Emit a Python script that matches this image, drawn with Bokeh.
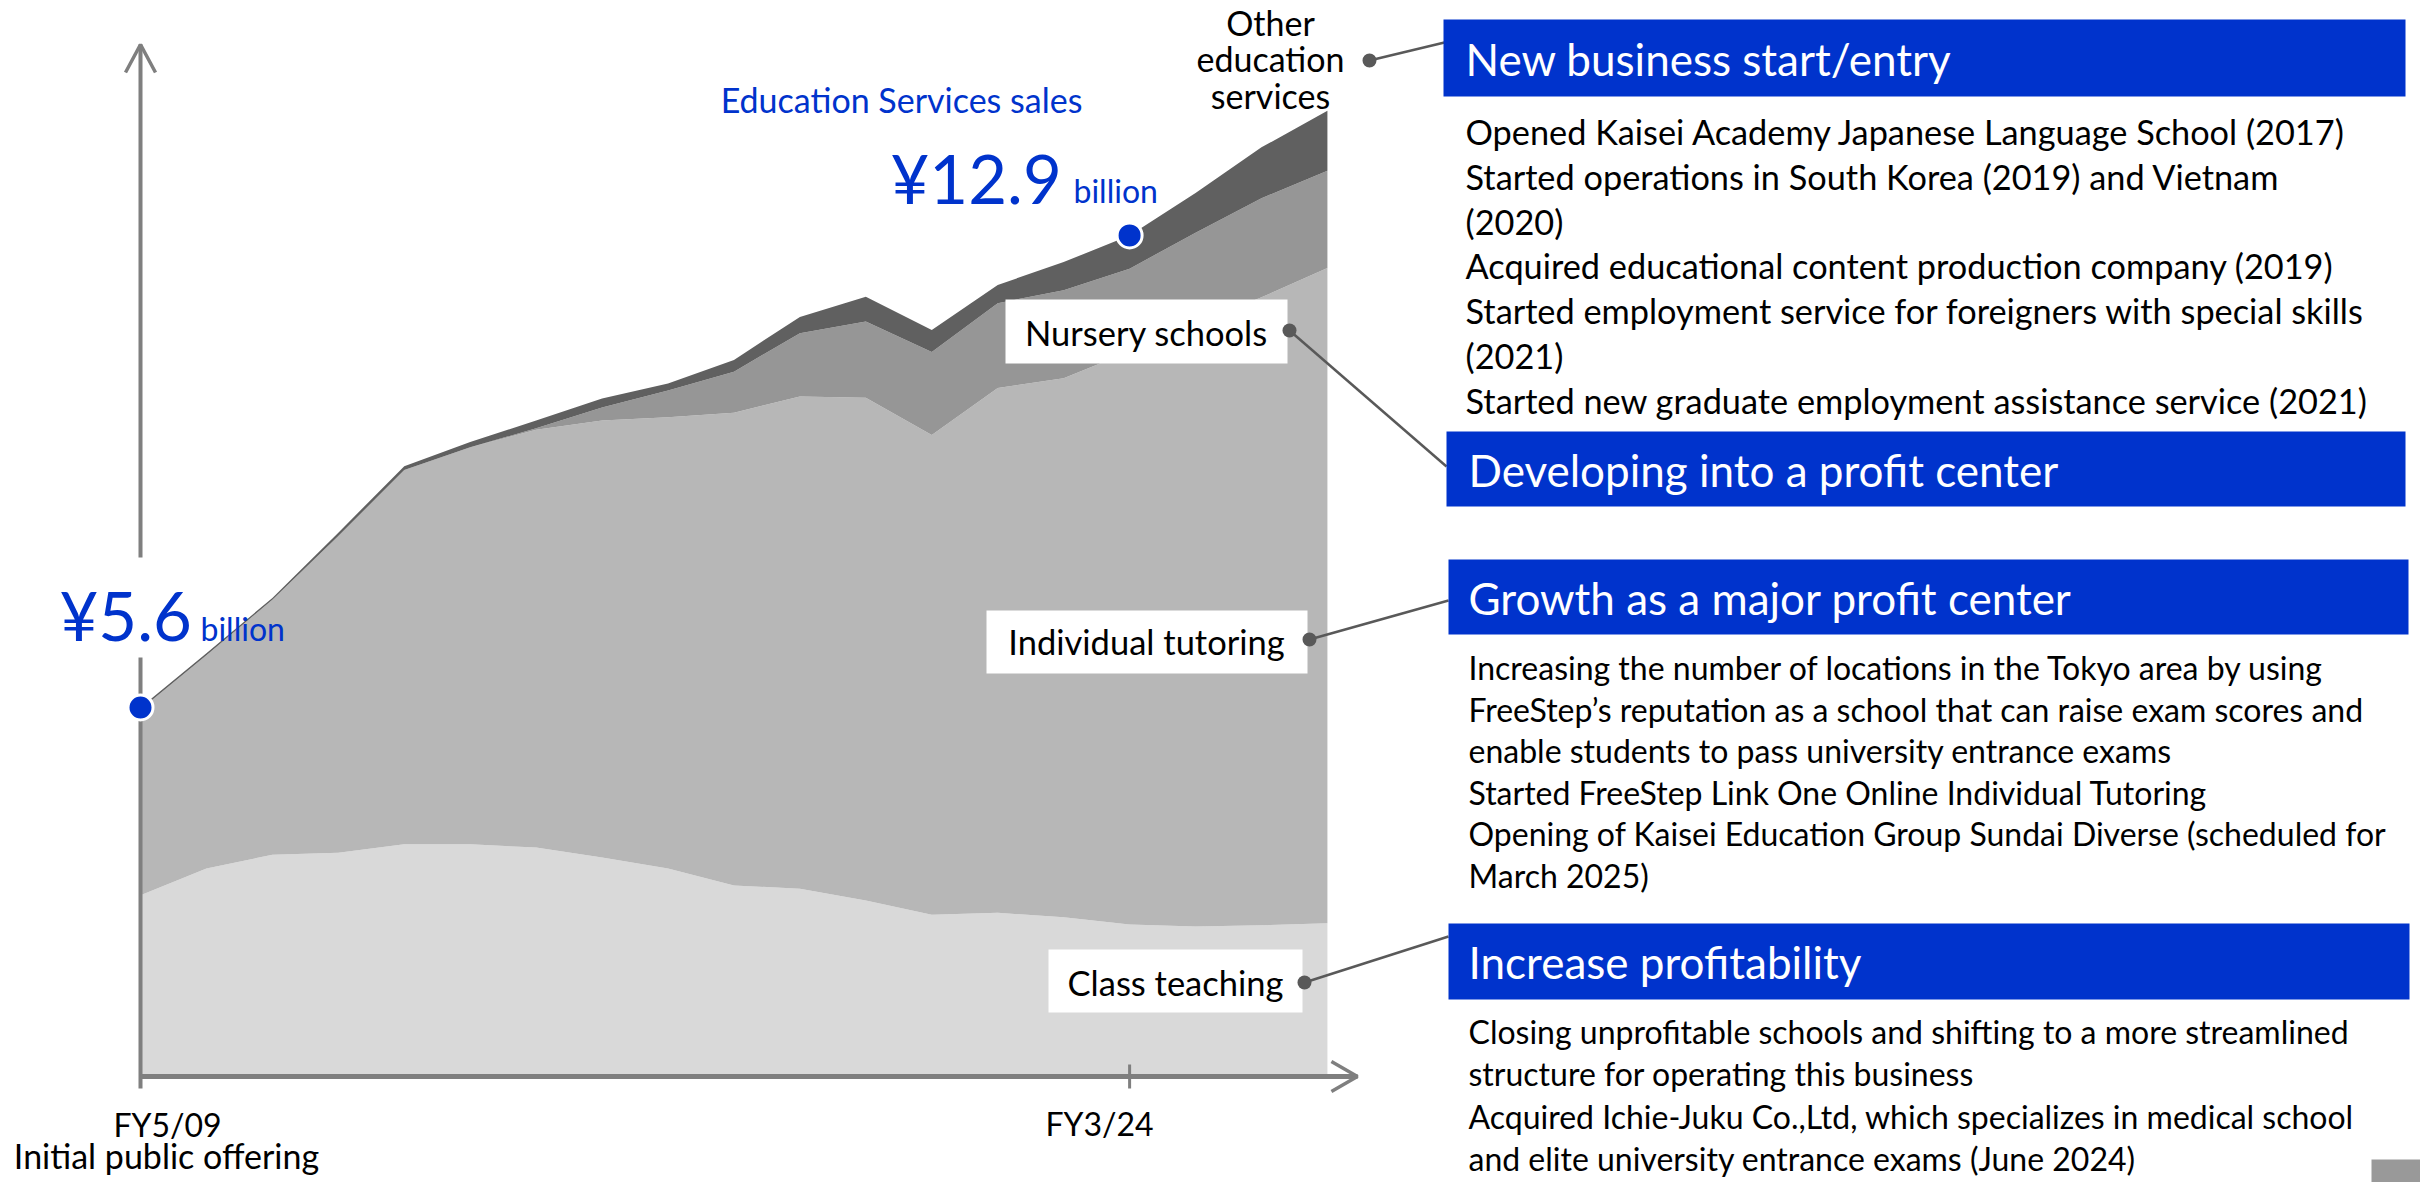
from bokeh.plotting import figure
from bokeh.models import Range1d, ColumnDataSource
from bokeh.embed import file_html
from bokeh.resources import INLINE
from bokeh.core.properties import value

# ---------------- data (billion yen) ----------------
years = [2009, 2010, 2011, 2012, 2013, 2014, 2015, 2016, 2017, 2018,
         2019, 2020, 2021, 2022, 2023, 2024, 2025, 2026, 2027]
class_teaching = [2.75, 3.16, 3.37, 3.40, 3.53, 3.53, 3.48, 3.33, 3.16, 2.90,
                  2.85, 2.67, 2.45, 2.48, 2.41, 2.30, 2.27, 2.29, 2.32]
individual_tutoring = [2.85, 3.27, 3.91, 4.86, 5.74, 6.09, 6.41, 6.70, 6.92, 7.25,
                       7.55, 7.71, 7.36, 8.05, 8.27, 8.79, 9.23, 9.63, 10.05]
nursery_schools = [0.00, 0.00, 0.00, 0.00, 0.00, 0.00, 0.02, 0.20, 0.41, 0.63,
                   0.97, 1.17, 1.27, 1.30, 1.35, 1.27, 1.41, 1.52, 1.49]
other_education = [0.03, 0.03, 0.03, 0.05, 0.06, 0.08, 0.12, 0.14, 0.11, 0.18,
                   0.25, 0.38, 0.34, 0.28, 0.43, 0.51, 0.61, 0.78, 0.92]
series_names = ["Class teaching", "Individual tutoring", "Nursery schools", "Other education services"]
series_colors = ["#d9d9d9", "#b7b7b7", "#969696", "#606060"]
tick_years = [2009, 2024]
tick_labels = ["FY5/09", "FY3/24"]
ipo_label = "Initial public offering"
chart_title = "Education Services sales"

headers = ["New business start/entry", "Developing into a profit center",
           "Growth as a major profit center", "Increase profitability"]
new_business_items = [
    "Opened Kaisei Academy Japanese Language School (2017)",
    "Started operations in South Korea (2019) and Vietnam",
    "(2020)",
    "Acquired educational content production company (2019)",
    "Started employment service for foreigners with special skills",
    "(2021)",
    "Started new graduate employment assistance service (2021)",
]
growth_items = [
    "Increasing the number of locations in the Tokyo area by using",
    "FreeStep\u2019s reputation as a school that can raise exam scores and",
    "enable students to pass university entrance exams",
    "Started FreeStep Link One Online Individual Tutoring",
    "Opening of Kaisei Education Group Sundai Diverse (scheduled for",
    "March 2025)",
]
profitability_items = [
    "Closing unprofitable schools and shifting to a more streamlined",
    "structure for operating this business",
    "Acquired Ichie-Juku Co.,Ltd, which specializes in medical school",
    "and elite university entrance exams (June 2024)",
]

# ---------------- layout (page pixels) ----------------
W, H = 2420, 1182
X0, DX = 140.0, 65.94      # page px of first year, px per year
Y0, DY = 1074.0, 65.2      # page px of zero, px per billion
FONT = value("Lato")
BLUE = "#0033cc"
GREY = "#7f7f7f"
LEADER = "#595959"


def px_x(yr):
    return X0 + (yr - years[0]) * DX


def px_y(v):
    return Y0 - v * DY


x_range = Range1d(years[0] + (0 - X0) / DX, years[0] + (W - X0) / DX)
y_range = Range1d((Y0 - H) / DY, Y0 / DY)

p = figure(width=W, height=H, x_range=x_range, y_range=y_range,
           x_axis_type=None, y_axis_type=None, output_backend="svg",
           toolbar_location=None, min_border=0, outline_line_color=None)
p.title.visible = False
p.background_fill_color = "white"
p.border_fill_color = "white"
p.extra_x_ranges = {"px": Range1d(0, W)}
p.extra_y_ranges = {"px": Range1d(H, 0)}
PX = dict(x_range_name="px", y_range_name="px")

totals = [a + b + c + d for a, b, c, d in zip(class_teaching, individual_tutoring,
                                              nursery_schools, other_education)]

src = ColumnDataSource(dict(year=years, c0=class_teaching, c1=individual_tutoring,
                            c2=nursery_schools, c3=other_education))
p.varea_stack(stackers=["c0", "c1", "c2", "c3"], x="year", color=series_colors, source=src)

# ---------------- axes (drawn) ----------------
ax = px_x(years[0])
ay = px_y(0) + 2
xend = px_x(years[-1]) + 30
p.line(x=[ax, ax], y=[ay + 12, 44], line_color=GREY, line_width=4, **PX)
p.line(x=[ax - 15, ax, ax + 15], y=[72, 44, 72], line_color=GREY, line_width=3.5, **PX)
p.line(x=[ax, xend], y=[ay, ay], line_color=GREY, line_width=5, **PX)
p.line(x=[xend - 26, xend, xend - 26], y=[ay - 15, ay, ay + 15], line_color=GREY, line_width=3.5, **PX)
tx = px_x(tick_years[1])
p.line(x=[tx, tx], y=[ay - 12, ay + 12], line_color=GREY, line_width=3, **PX)
# gap in the y axis behind the first value label
p.quad(left=[ax - 12], right=[ax + 12], top=[557], bottom=[657], fill_color="white", line_color=None, **PX)

p.text(x=[167, 1099], y=[1124, 1123], text=tick_labels, text_font=FONT,
       text_font_size=value("32px"), text_color="black", text_align="center",
       text_baseline="middle", **PX)
p.text(x=[166], y=[1155], text=[ipo_label], text_font=FONT,
       text_font_size=value("34px"), text_color="black", text_align="center",
       text_baseline="middle", **PX)

# ---------------- value markers ----------------
mk = [0, years.index(2024)]
p.scatter(x=[years[i] for i in mk], y=[totals[i] for i in mk], size=25,
          fill_color=BLUE, line_color="white", line_width=3)

p.text(x=[901], y=[99], text=[chart_title], text_font=FONT, text_font_size=value("34px"),
       text_color=BLUE, text_align="center", text_baseline="middle", **PX)
p.text(x=[59, 890], y=[614, 177], text=["\u00a5%.1f" % totals[i] for i in mk], text_font=FONT,
       text_font_size=value("67px"), text_color=BLUE, text_align="left", text_baseline="middle", **PX)
p.text(x=[200, 1073], y=[628, 190], text=["billion", "billion"], text_font=FONT,
       text_font_size=value("32px"), text_color=BLUE, text_align="left", text_baseline="middle", **PX)

# ---------------- series labels with leader lines ----------------
p.text(x=[1270, 1270, 1270], y=[22, 58, 95], text=["Other", "education", "services"], text_font=FONT,
       text_font_size=value("34px"), text_color="black", text_align="center", text_baseline="middle", **PX)
p.quad(left=[1005, 986, 1048], right=[1287, 1307, 1302], top=[299, 610, 949], bottom=[363, 673, 1012],
       fill_color="white", line_color=None, **PX)
p.text(x=[1146, 1146, 1175], y=[332, 641, 982],
       text=[series_names[2], series_names[1], series_names[0]], text_font=FONT,
       text_font_size=value("34.5px"), text_color="black", text_align="center", text_baseline="middle", **PX)
p.multi_line(xs=[[1369, 1444], [1289, 1446], [1309, 1448], [1304, 1448]],
             ys=[[60, 42], [330, 466], [639, 600], [982, 936]],
             line_color=LEADER, line_width=2.5, **PX)
p.scatter(x=[1369, 1289, 1309, 1304], y=[60, 330, 639, 982], size=14,
          fill_color=LEADER, line_color=None, **PX)

# ---------------- right panel ----------------
p.quad(left=[1443, 1446, 1448, 1448], right=[2405, 2405, 2408, 2409],
       top=[19, 431, 559, 923], bottom=[96, 506, 634, 999],
       fill_color=BLUE, line_color=None, **PX)
p.text(x=[1465, 1468, 1468, 1468], y=[58, 469, 597, 961], text=headers, text_font=FONT,
       text_font_size=value("44px"), text_color="white", text_align="left", text_baseline="middle", **PX)

p.text(x=[1465] * len(new_business_items), y=[131 + 44.8 * k for k in range(len(new_business_items))],
       text=new_business_items, text_font=FONT, text_font_size=value("34.3px"), text_color="black",
       text_align="left", text_baseline="middle", **PX)
p.text(x=[1468] * len(growth_items), y=[667 + 41.6 * k for k in range(len(growth_items))],
       text=growth_items, text_font=FONT, text_font_size=value("32px"), text_color="black",
       text_align="left", text_baseline="middle", **PX)
p.text(x=[1468] * len(profitability_items), y=[1031 + 42.3 * k for k in range(len(profitability_items))],
       text=profitability_items, text_font=FONT, text_font_size=value("32px"), text_color="black",
       text_align="left", text_baseline="middle", **PX)

# page-corner tab
p.quad(left=[2371], right=[2420], top=[1159], bottom=[1182], fill_color="#999999", line_color=None, **PX)

open("out.html", "w").write(file_html(p, INLINE))
